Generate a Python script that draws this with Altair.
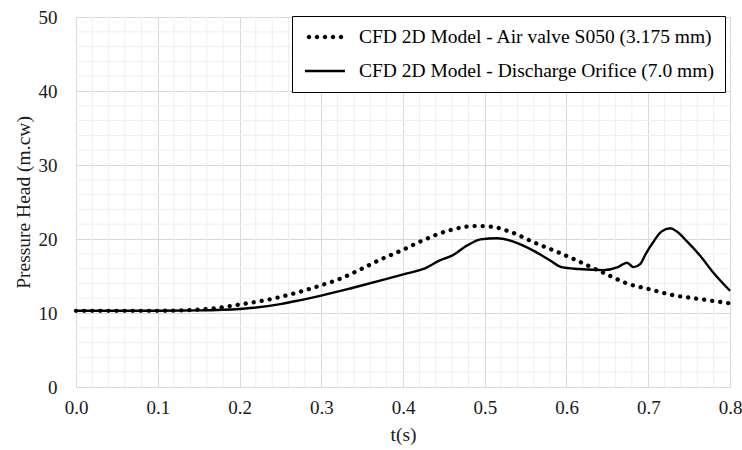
import altair as alt
import pandas as pd

# ---- data ----
series_names = [
    "CFD 2D Model - Air valve S050 (3.175 mm)",
    "CFD 2D Model - Discharge Orifice (7.0 mm)",
]

t_air = [0.0, 0.1, 0.14, 0.17, 0.2, 0.237, 0.27, 0.3, 0.32, 0.35, 0.37, 0.4,
         0.427, 0.4575, 0.488, 0.5085, 0.533, 0.559, 0.59, 0.6165, 0.645,
         0.674, 0.702, 0.731, 0.759, 0.8]
p_air = [10.3, 10.3, 10.4, 10.65, 11.15, 11.85, 12.75, 13.75, 14.5, 16.0, 17.1,
         18.55, 19.95, 21.2, 21.75, 21.65, 20.9, 19.6, 18.2, 16.9, 15.45,
         14.0, 13.2, 12.4, 11.95, 11.3]

t_orf = [0.0, 0.1, 0.15, 0.2, 0.25, 0.275, 0.3, 0.34, 0.38, 0.405, 0.425,
         0.445, 0.46, 0.478, 0.495, 0.515, 0.535, 0.56, 0.58, 0.594, 0.615,
         0.645, 0.663, 0.674, 0.682, 0.69, 0.697, 0.705, 0.716, 0.727, 0.735,
         0.748, 0.763, 0.78, 0.8]
p_orf = [10.3, 10.3, 10.35, 10.55, 11.2, 11.75, 12.35, 13.45, 14.6, 15.35,
         15.95, 17.1, 17.75, 19.1, 19.95, 20.1, 19.65, 18.4, 17.1, 16.2, 15.95,
         15.8, 16.2, 16.8, 16.2, 16.6, 18.0, 19.4, 21.0, 21.45, 21.0,
         19.6, 17.8, 15.4, 13.0]

x_major = [0.0, 0.1, 0.2, 0.3, 0.4, 0.5, 0.6, 0.7, 0.8]
y_major = [0, 10, 20, 30, 40, 50]
x_minor = [round(i * 0.02, 2) for i in range(41) if i % 5 != 0]
y_minor = [v for v in range(0, 51, 2) if v % 10 != 0]

df_air = pd.DataFrame({"t": t_air, "p": p_air, "series": series_names[0]})
df_orf = pd.DataFrame({"t": t_orf, "p": p_orf, "series": series_names[1]})
df_xminor = pd.DataFrame({"t": x_minor})
df_yminor = pd.DataFrame({"p": y_minor})

FONT = "Liberation Serif, Times New Roman, serif"
MAJOR = "#d9d9d9"
MINOR = "#efefef"
TXT = "#1a1a1a"

axis_style = dict(
    labelFont=FONT,
    labelFontSize=19,
    labelColor=TXT,
    titleFont=FONT,
    titleFontSize=19.5,
    titleFontWeight="normal",
    titleColor=TXT,
    domainColor=MAJOR,
    gridColor=MAJOR,
    ticks=False,
)

x_enc = alt.X(
    "t:Q",
    scale=alt.Scale(domain=[0, 0.8], nice=False, zero=False),
    axis=alt.Axis(
        title="t(s)",
        values=x_major,
        format=".1f",
        labelFlush=False,
        labelPadding=11,
        titlePadding=8,
        **axis_style,
    ),
)
y_enc = alt.Y(
    "p:Q",
    scale=alt.Scale(domain=[0, 50], nice=False),
    axis=alt.Axis(
        title="Pressure Head (m.cw)",
        values=y_major,
        labelPadding=19,
        titlePadding=5,
        **axis_style,
    ),
)

vminor = alt.Chart(df_xminor).mark_rule(color=MINOR, strokeWidth=1).encode(x=x_enc)
hminor = alt.Chart(df_yminor).mark_rule(color=MINOR, strokeWidth=1).encode(y=y_enc)

air = alt.Chart(df_air).mark_line(
    color="black", strokeWidth=4.3, strokeCap="round", strokeDash=[0.1, 8],
    interpolate="monotone",
).encode(x=x_enc, y=y_enc)

orf = alt.Chart(df_orf).mark_line(
    color="black", strokeWidth=2.4, interpolate="monotone",
).encode(x=x_enc, y=y_enc)

# legend symbols (custom paths): round dots and a solid bar
dots_path = " ".join(
    f"M{cx - 0.22:.2f},0a0.22,0.22 0 1,0 0.44,0a0.22,0.22 0 1,0 -0.44,0Z"
    for cx in [-1.6, -0.8, 0.0, 0.8, 1.6]
)
line_path = "M-2,-0.12H2V0.12H-2Z"

legend_layer = alt.Chart(df_air).transform_filter("false").mark_point(
    filled=True, color="black", size=400, opacity=1
).encode(
    x=x_enc,
    y=y_enc,
    shape=alt.Shape(
        "series:N",
        scale=alt.Scale(domain=series_names, range=[dots_path, line_path]),
        legend=alt.Legend(
            title=None,
            orient="none",
            legendX=216,
            legendY=-1,
            direction="vertical",
            strokeColor="black",
            fillColor="white",
            padding=11,
            labelFont=FONT,
            labelFontSize=19.5,
            labelColor="black",
            labelLimit=700,
            labelOffset=24,
            symbolOffset=12,
            symbolSize=400,
            symbolStrokeWidth=0,
            symbolFillColor="black",
            rowPadding=14,
        ),
    ),
)

chart = alt.layer(vminor, hminor, air, orf, legend_layer).properties(
    width=654,
    height=370,
    padding={"left": 76, "top": 17, "right": 12, "bottom": 63},
    autosize=alt.AutoSizeParams(type="none"),
).configure_view(stroke=None).configure_axis(
    labelFont=FONT,
    labelFontSize=19,
    titleFont=FONT,
    titleFontSize=19.5,
    titleFontWeight="normal",
)

chart.save("out.html", embed_options={"renderer": "svg", "actions": False})
